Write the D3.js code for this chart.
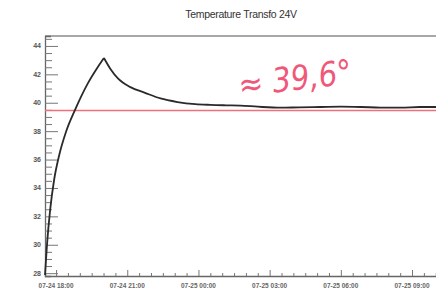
<!DOCTYPE html>
<html>
<head>
<meta charset="utf-8">
<script src="https://cdn.jsdelivr.net/npm/d3@7"></script>
<style>
  body { margin: 0; background: #fff; }
  svg { display: block; }
</style>
</head>
<body>
<script>
// temperature readings
var times = [
  "07-24 17:32", "07-24 17:37", "07-24 17:45", "07-24 17:55", "07-24 18:08",
  "07-24 18:25", "07-24 18:48", "07-24 19:21", "07-24 19:44", "07-24 20:01",
  "07-24 20:17", "07-24 20:37", "07-24 21:08", "07-24 21:45", "07-24 22:24",
  "07-24 23:07", "07-24 23:52", "07-25 00:30", "07-25 01:10", "07-25 01:46",
  "07-25 02:30", "07-25 03:28", "07-25 04:15", "07-25 05:09", "07-25 06:00",
  "07-25 06:50", "07-25 07:40", "07-25 08:32", "07-25 09:20", "07-25 10:03"
];
var temps = [
  27.87, 29.98, 32.45, 34.56, 36.32,
  37.94, 39.5, 41.4, 42.45, 43.15,
  42.4, 41.7, 41.1, 40.7, 40.3,
  40.05, 39.9, 39.85, 39.82, 39.8,
  39.72, 39.65, 39.68, 39.7, 39.72,
  39.7, 39.66, 39.65, 39.7, 39.7
];
var refLine = 39.45;
var yTicks = [28, 30, 32, 34, 36, 38, 40, 42, 44];
var xTickLabels = ["07-24 18:00", "07-24 21:00", "07-25 00:00", "07-25 03:00", "07-25 06:00", "07-25 09:00"];
var title = "Temperature Transfo 24V";
var note = "\u2248 39,6\u00b0";

var W = 436, H = 296;
var parse = d3.timeParse("%m-%d %H:%M");

var data = times.map(function(t, i) { return { t: parse(t), v: temps[i] }; });

var svg = d3.select("body").append("svg")
  .attr("width", W).attr("height", H);

var plotLeft = 45, plotTop = 36, plotBottom = 276;
var pxPerHour = 23.73;
var t0 = parse("07-24 17:32");
var t1 = parse("07-25 11:00");
var x = d3.scaleTime()
  .domain([t0, t1])
  .range([plotLeft, plotLeft + (t1 - t0) / 3600000 * pxPerHour]);
var y = d3.scaleLinear().domain([27.8, 44.7]).range([plotBottom, plotTop]);

// title
svg.append("text")
  .attr("x", 241).attr("y", 18)
  .attr("text-anchor", "middle")
  .style("font-family", "Liberation Sans, Arial, sans-serif")
  .style("font-size", "10.5px")
  .style("letter-spacing", "-0.3px")
  .attr("fill", "#333")
  .text(title);

// top frame line
svg.append("line")
  .attr("x1", plotLeft).attr("x2", W)
  .attr("y1", plotTop).attr("y2", plotTop)
  .attr("stroke", "#8a8a8a").attr("stroke-width", 1.5);

// y axis, ticks pointing in
var yAxis = d3.axisRight(y)
  .tickValues(d3.range(28, 44.51, 0.5))
  .tickSize(6)
  .tickFormat("");
var gy = svg.append("g").attr("transform", "translate(" + plotLeft + ",0)").call(yAxis);
gy.selectAll(".tick line")
  .attr("x2", function(d) { return d % 2 === 0 ? 13 : 7; })
  .attr("stroke", "#777");
gy.select(".domain").attr("stroke", "#666").attr("stroke-width", 1.3);

svg.append("g").selectAll("text")
  .data(yTicks)
  .enter().append("text")
  .attr("x", plotLeft - 4).attr("y", function(d) { return y(d) + 2.5; })
  .attr("text-anchor", "end")
  .style("font-family", "Liberation Sans, Arial, sans-serif")
  .style("font-size", "7px")
  .style("font-weight", "bold")
  .attr("fill", "#555")
  .text(function(d) { return d; });

// x axis, ticks pointing up
var gx = svg.append("g").attr("transform", "translate(0," + plotBottom + ")")
  .call(d3.axisTop(x).ticks(d3.timeMinute.every(30)).tickSize(3).tickFormat(""));
gx.selectAll(".tick line")
  .attr("y2", function(d) { return d.getHours() % 3 === 0 && d.getMinutes() === 0 ? -6 : -3; })
  .attr("stroke", "#777");
gx.select(".domain").attr("stroke", "#666").attr("stroke-width", 1.3);

svg.append("g").selectAll("text")
  .data(xTickLabels)
  .enter().append("text")
  .attr("x", function(d) { return x(parse(d)); })
  .attr("y", plotBottom + 12)
  .attr("text-anchor", "middle")
  .style("font-family", "Liberation Sans, Arial, sans-serif")
  .style("font-size", "6.5px")
  .style("font-weight", "bold")
  .attr("fill", "#666")
  .text(function(d) { return d; });

// red reference line
svg.append("line")
  .attr("x1", plotLeft).attr("x2", W)
  .attr("y1", y(refLine)).attr("y2", y(refLine))
  .attr("stroke", "#ef6f7a").attr("stroke-width", 1.4);

// temperature curve: warm-up and cool-down drawn separately so the peak stays sharp
var line = d3.line()
  .x(function(d) { return x(d.t); })
  .y(function(d) { return y(d.v); })
  .curve(d3.curveMonotoneX);

var peak = d3.maxIndex(data, function(d) { return d.v; });
[data.slice(0, peak + 1), data.slice(peak)].forEach(function(part) {
  svg.append("path")
    .datum(part)
    .attr("fill", "none")
    .attr("stroke", "#2a2a2a")
    .attr("stroke-width", 1.8)
    .attr("d", line);
});

// handwritten note
svg.append("text")
  .attr("transform", "translate(240,97) rotate(-7)")
  .style("font-family", "DejaVu Sans, sans-serif")
  .style("font-size", "34px")
  .style("font-weight", "200")
  .style("font-style", "italic")
  .attr("textLength", 114)
  .attr("lengthAdjust", "spacingAndGlyphs")
  .attr("fill", "#f0587a")
  .text(note);
</script>
</body>
</html>
